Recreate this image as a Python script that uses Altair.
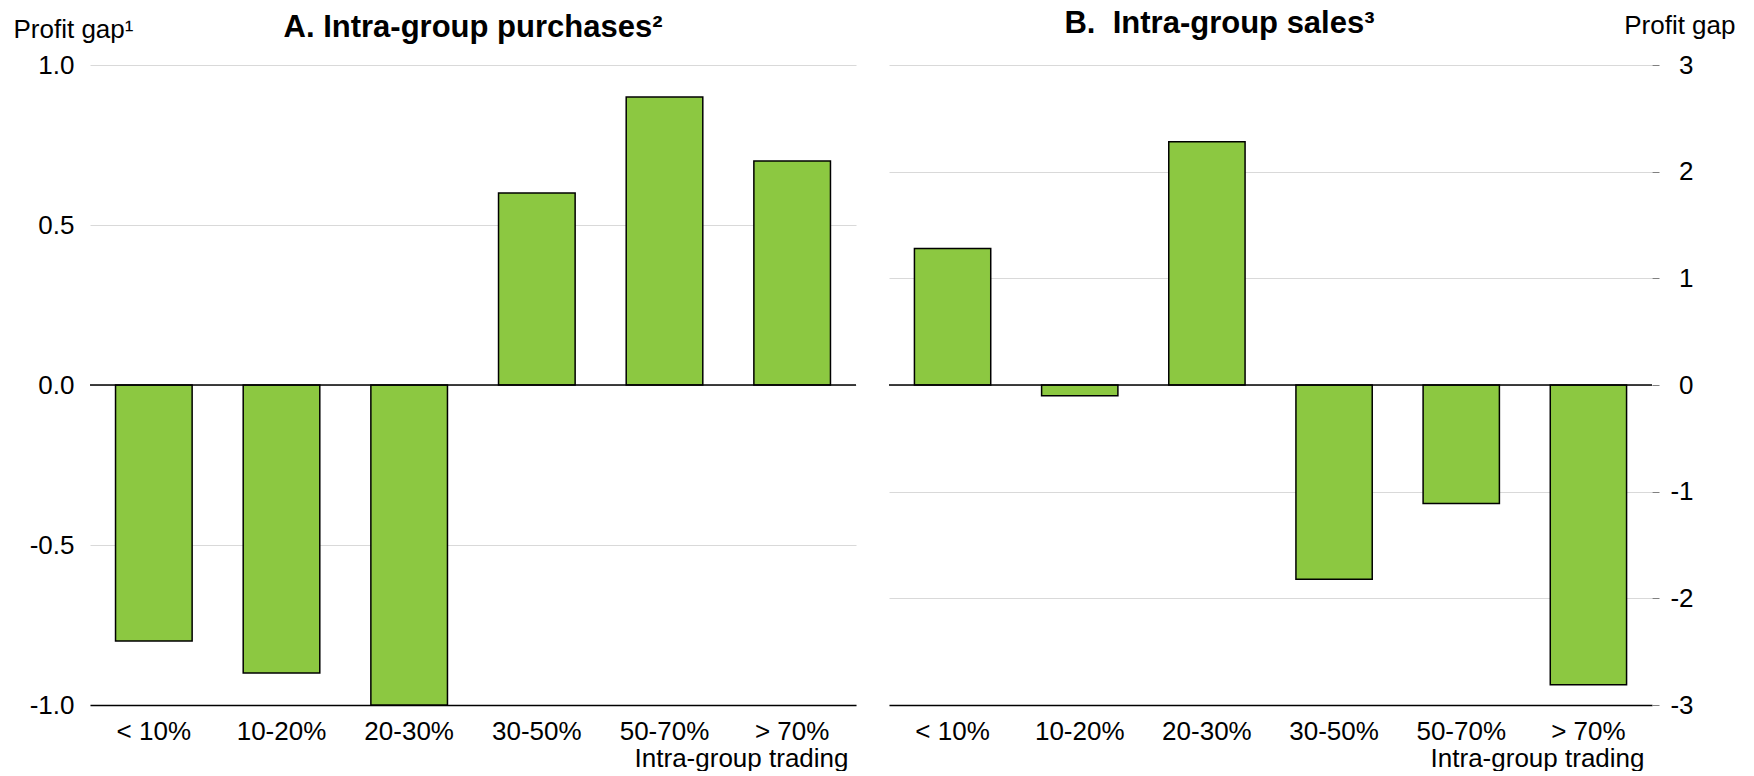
import altair as alt
import pandas as pd

# ---- data ----
categories = ["< 10%", "10-20%", "20-30%", "30-50%", "50-70%", "> 70%"]
purchases_gap = [-0.8, -0.9, -1.0, 0.6, 0.9, 0.7]
sales_gap = [1.28, -0.1, 2.28, -1.82, -1.11, -2.81]
ticks_a = [-1.0, -0.5, 0.0, 0.5, 1.0]
ticks_b = [-3, -2, -1, 0, 1, 2, 3]
title_a = "A. Intra-group purchases²"
title_b = "B.\u00a0 Intra-group sales³"
ytitle_a = "Profit gap¹"
ytitle_b = "Profit gap"
xtitle = "Intra-group trading"

FONT = "Liberation Sans"
GREEN = "#8cc841"
W_A, W_B, H = 766, 763, 640
FS = 26


def make_panel(values, domain, ticks, fmt, orient, width, title, title_dx,
               ytitle, ytitle_x, ytitle_y, ytitle_align, show_ticks,
               label_align, label_padding):
    df = pd.DataFrame({"category": categories, "gap": values})
    zero = pd.DataFrame({"gap": [0.0]})
    label_expr = "replace(format(datum.value, '%s'), '\u2212', '-')" % fmt
    x = alt.X(
        "category:N", sort=categories,
        scale=alt.Scale(paddingInner=0.4, paddingOuter=0.2),
        axis=alt.Axis(
            title=xtitle, labelAngle=0, labelFontSize=FS, labelPadding=13,
            labelColor="black", ticks=False, domainColor="black", domainWidth=1.5,
            titleFontSize=FS, titleFontWeight="normal", titleColor="black",
            titleAlign="right", titleX=width - 8, titlePadding=1,
        ),
    )
    y = alt.Y(
        "gap:Q",
        scale=alt.Scale(domain=domain, nice=False, zero=True),
        axis=alt.Axis(
            orient=orient, values=ticks, labelExpr=label_expr,
            title=ytitle, titleAngle=0, titleAlign=ytitle_align,
            titleBaseline="alphabetic", titleX=ytitle_x, titleY=ytitle_y,
            titleFontSize=FS, titleFontWeight="normal", titleColor="black",
            grid=True, gridColor="#d9d9d9", gridWidth=1, domain=False,
            ticks=show_ticks, tickColor="#808080", tickSize=7,
            labelFontSize=FS, labelPadding=label_padding, labelAlign=label_align,
            labelColor="black",
        ),
    )
    bars = alt.Chart(df).mark_bar(color=GREEN, stroke="black", strokeWidth=1.5).encode(x=x, y=y)
    rule = alt.Chart(zero).mark_rule(color="black", strokeWidth=1.5).encode(y=alt.Y("gap:Q"))
    return alt.layer(bars, rule).properties(
        width=width, height=H,
        title=alt.TitleParams(
            text=title, font=FONT, fontSize=31, fontWeight="bold", color="black",
            anchor="middle", dx=title_dx, dy=55, frame="group", offset=27,
        ),
    )


panel_a = make_panel(purchases_gap, [-1, 1], ticks_a, ".1f", "left", W_A, title_a, 0,
                     ytitle_a, -77, -28, "left", False, "right", 16)
panel_b = make_panel(sales_gap, [-3, 3], ticks_b, "d", "right", W_B, title_b, -51,
                     ytitle_b, 83, -32, "right", True, "right", 34)

chart = (
    alt.hconcat(panel_a, panel_b, spacing=33, bounds="flush")
    .properties(padding={"top": 0, "left": 5, "right": 5, "bottom": 0})
    .configure(font=FONT)
    .configure_view(stroke=None)
    .configure_axis(labelFont=FONT, titleFont=FONT)
)

chart.save("out.html", embed_options={"renderer": "svg", "actions": False})
